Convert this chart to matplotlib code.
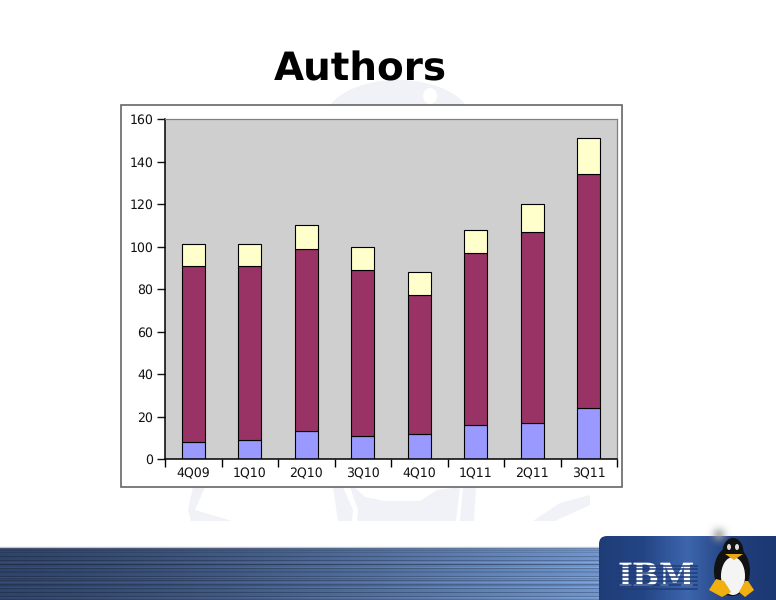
"""Authors per quarter, stacked bars on a slide background."""

import matplotlib
matplotlib.use("Agg")
import matplotlib.pyplot as plt
import numpy as np
from matplotlib.patches import Ellipse, FancyBboxPatch, Polygon, Rectangle

plt.rcParams["text.hinting"] = "none"

W, H = 776, 600

quarters = ["4Q09", "1Q10", "2Q10", "3Q10", "4Q10", "1Q11", "2Q11", "3Q11"]
blue_vals = [8, 9, 13, 11, 12, 16, 17, 24]
purple_vals = [83, 82, 86, 78, 65, 81, 90, 110]
cream_vals = [10, 10, 11, 11, 11, 11, 13, 17]
y_ticks = [0, 20, 40, 60, 80, 100, 120, 140, 160]

BLUE = "#9999ff"
PURPLE = "#993366"
CREAM = "#ffffcc"
PLOT_BG = "#cfcfcf"
WATERMARK = "#f0f2f7"


def frac_box(x0, y0, x1, y1):
    # pixel box (y down) to figure fractions
    return [x0 / W, 1 - y1 / H, (x1 - x0) / W, (y1 - y0) / H]


fig = plt.figure(figsize=(W / 100, H / 100), dpi=100, facecolor="white")

# ---------------------------------------------------------------------------
# Slide background, drawn in pixel coordinates
# ---------------------------------------------------------------------------
bg = fig.add_axes([0, 0, 1, 1], zorder=0)
bg.set_xlim(0, W)
bg.set_ylim(H, 0)
bg.axis("off")

# pale watermark penguin: head above the chart, body and flippers below it
bg.add_patch(Ellipse((398, 120), 146, 80, color=WATERMARK, lw=0))
bg.add_patch(Ellipse((430, 96), 14, 16, color="white", lw=0))
bg.add_patch(Polygon([(193, 487), (205, 487), (195, 510), (232, 521), (191, 521), (188, 510)],
                     color=WATERMARK, lw=0))
bg.add_patch(Polygon([(333, 487), (343, 487), (353, 510), (352, 521), (338, 521)],
                     color=WATERMARK, lw=0))
bg.add_patch(Polygon([(357, 521), (358, 510), (350, 487), (354, 487), (365, 497), (385, 501),
                      (420, 501), (437, 490), (460, 487), (456, 521)], color=WATERMARK, lw=0))
bg.add_patch(Polygon([(463, 487), (476, 487), (474, 521), (460, 521)], color=WATERMARK, lw=0))
bg.add_patch(Polygon([(533, 521), (560, 503), (590, 495), (590, 505), (555, 521)],
                     color=WATERMARK, lw=0))

# striped banner
rows = np.arange(53)
stripes = 1.0 - 0.22 * (rows % 4 == 1) - 0.12 * (rows % 7 == 3) + 0.10 * (rows % 5 == 0)
ramp = np.linspace(0, 1, 300)[None, :]
dark = np.array([0.19, 0.27, 0.42])[None, None, :]
light = np.array([0.45, 0.60, 0.82])[None, None, :]
banner = (dark + (light - dark) * ramp[..., None] ** 1.4) * stripes[:, None, None]
bg.imshow(np.clip(banner, 0, 1), extent=(0, 610, 600, 547), aspect="auto", zorder=1)
bg.plot([0, 610], [546.5, 546.5], color="#c3c9d8", lw=1, zorder=2)

# blue logo tab
shade = np.array([[0.12, 0.24, 0.47], [0.14, 0.27, 0.52], [0.24, 0.40, 0.68],
                  [0.13, 0.25, 0.49], [0.11, 0.22, 0.45]])
xs = np.linspace(0, 1, 200)
tab_img = np.stack([np.interp(xs, np.linspace(0, 1, 5), shade[:, i]) for i in range(3)], axis=-1)[None, :, :]
im = bg.imshow(tab_img, extent=(599, 776, 600, 536), aspect="auto", zorder=3)
tab = FancyBboxPatch((599, 536), 220, 90, boxstyle="round,pad=0,rounding_size=8",
                     fc="none", ec="none", transform=bg.transData)
bg.add_patch(tab)
im.set_clip_path(tab)

# soft grey smudge over the top edge of the tab
gx, gy = np.meshgrid(np.linspace(-1, 1, 60), np.linspace(-1, 1, 60))
smudge = np.zeros((60, 60, 4))
smudge[..., :3] = 0.62
smudge[..., 3] = 0.75 * np.exp(-(gx ** 2 + gy ** 2) * 3.5)
bg.imshow(smudge, extent=(706, 732, 548, 522), aspect="auto", zorder=3.5)

# IBM logo
bg.text(656.5, 577, "IBM", color="white", fontsize=23, fontweight="bold",
        family="DejaVu Serif", ha="center", va="center", zorder=4)
for yy in np.arange(565.5, 590, 3.9):
    bg.plot([616, 697], [yy, yy], color="#1f3d78", lw=1.1, zorder=5)

# penguin
bg.add_patch(Ellipse((732, 571), 36, 50, color="#111111", lw=0, zorder=4))
bg.add_patch(Ellipse((733, 552), 21, 28, color="#111111", lw=0, zorder=4))
bg.add_patch(Ellipse((733, 576), 24, 38, color="#f4f4f4", lw=0, zorder=5))
bg.add_patch(Ellipse((729, 547), 4, 6, color="#ddd", lw=0, zorder=6))
bg.add_patch(Ellipse((737, 547), 4, 6, color="#ddd", lw=0, zorder=6))
bg.add_patch(Polygon([(725, 554), (743, 554), (734, 560)], color="#e8a818", lw=0, zorder=6))
bg.add_patch(Polygon([(709, 590), (716, 579), (724, 581), (731, 592), (722, 597)],
                     color="#f0b010", lw=0, zorder=6))
bg.add_patch(Polygon([(739, 592), (745, 581), (748, 581), (754, 590), (745, 597)],
                     color="#f0b010", lw=0, zorder=6))

# slide title
bg.text(360, 70, "Authors", color="black", fontsize=28, fontweight="bold",
        family="DejaVu Sans", ha="center", va="center", zorder=4)

# chart frame
bg.add_patch(Rectangle((121, 105), 501, 382, fc="white", ec="#666666", lw=1.2, zorder=2))

# ---------------------------------------------------------------------------
# Chart
# ---------------------------------------------------------------------------
ax = fig.add_axes(frac_box(165, 119, 617, 459), zorder=3)
ax.set_facecolor(PLOT_BG)

x = np.arange(len(quarters))
purple_bottom = np.array(blue_vals)
cream_bottom = purple_bottom + np.array(purple_vals)
bar_kw = dict(width=0.4, edgecolor="black", linewidth=0.8)
ax.bar(x, blue_vals, color=BLUE, **bar_kw)
ax.bar(x, purple_vals, bottom=purple_bottom, color=PURPLE, **bar_kw)
ax.bar(x, cream_vals, bottom=cream_bottom, color=CREAM, **bar_kw)

ax.set_xlim(-0.5, len(quarters) - 0.5)
ax.set_ylim(0, 160)
ax.set_yticks(y_ticks)
ax.set_xticks(x)
ax.set_xticklabels(quarters)
ax.set_xticks(np.arange(len(quarters) + 1) - 0.5, minor=True)
ax.tick_params(axis="x", which="major", length=0, pad=6, labelsize=9, colors="#111111")
ax.tick_params(axis="x", which="minor", length=5.5, width=1, color="black")
ax.tick_params(axis="y", length=5.5, width=1, labelsize=9, pad=3, colors="#111111")
for side in ("top", "right"):
    ax.spines[side].set_color("#808080")
    ax.spines[side].set_linewidth(0.9)
ax.spines["left"].set_linewidth(1.1)
ax.spines["bottom"].set_linewidth(1.1)

fig.savefig("out.png", dpi=100, facecolor="white")
